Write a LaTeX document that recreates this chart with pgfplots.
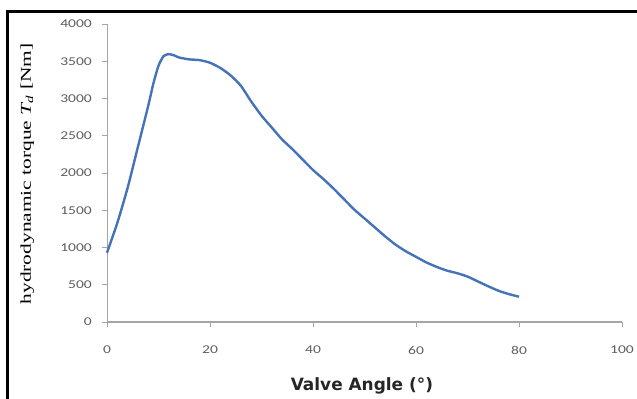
\documentclass[border=0pt]{standalone}
\usepackage{pgfplots}
\pgfplotsset{compat=1.18}
\usepackage{fontspec}
\usepackage{graphicx}
\setmainfont{Liberation Serif}
\newfontfamily\tickfont{Carlito}
\newfontfamily\labfont{DejaVu Sans}
\definecolor{serblue}{RGB}{70,114,184}
\definecolor{axgray}{RGB}{165,165,165}
\definecolor{txtgray}{RGB}{95,95,95}
\begin{document}
\begin{tikzpicture}
\useasboundingbox (0bp,0bp) rectangle (637bp,399bp);
\fill[white] (0bp,0bp) rectangle (637bp,399bp);
\draw[line width=3bp,black] (7bp,0bp) -- (7bp,387bp) -- (637bp,387bp);
\begin{axis}[
  at={(107bp,77bp)}, anchor=south west,
  scale only axis, width=515bp, height=298bp,
  xmin=0, xmax=100, ymin=0, ymax=4000,
  axis lines*=left,
  axis line style={axgray, line width=0.8bp},
  x axis line style={line width=1.6bp},
  xtick={0,20,...,100}, ytick={0,500,...,4000},
  tick align=outside, major tick length=5bp,
  tick style={axgray, line width=0.8bp},
  /pgf/number format/.cd, 1000 sep={}, assume math mode=true, /pgfplots/.cd,
  scaled ticks=false,
  yticklabel={\scalebox{1.3}[1]{\pgfmathprintnumber{\tick}}},
  xticklabel={\scalebox{1.3}[1]{\pgfmathprintnumber{\tick}}},
  yticklabel style={font=\tickfont\fontsize{12}{14}\selectfont, text=txtgray, anchor=east, inner sep=0pt, xshift=-10bp},
  xticklabel style={font=\tickfont\fontsize{12}{14}\selectfont, text=txtgray, anchor=north, inner sep=0pt, yshift=-19bp},
  ylabel={\scalebox{1}[0.7]{hydrodynamic torque \textit{T\textsubscript{d}} [Nm]}},
  ylabel style={font=\fontsize{21.5}{24}\selectfont, at={(rel axis cs:-0.155,0.497)}, anchor=center, inner sep=0pt},
  xlabel={Valve Angle (°)},
  xlabel style={font=\labfont\bfseries\fontsize{17}{20}\selectfont, text=black!85, at={(rel axis cs:0.495,-0.215)}, anchor=center, inner sep=0pt},
  clip=false,
]
\addplot[serblue, line width=2.4bp, smooth, tension=0.4] coordinates {
(0,930) (2,1330) (4,1800) (6,2350) (8,2900) (9,3200) (10,3440) (11,3570) (12,3595) (13,3580) (14,3550) (16,3525) (18,3515) (20,3480) (22,3410) (24,3310) (26,3170) (28,2960) (30,2770) (32,2610) (34,2450) (36,2320) (38,2180) (40,2040) (42,1920) (44,1790) (46,1650) (48,1510) (50,1390) (52,1270) (54,1150) (56,1040) (58,950) (60,875) (62,800) (64,740) (66,690) (68,655) (70,610) (72,545) (74,480) (76,420) (78,375) (80,340)
};
\end{axis}
\end{tikzpicture}
\end{document}
